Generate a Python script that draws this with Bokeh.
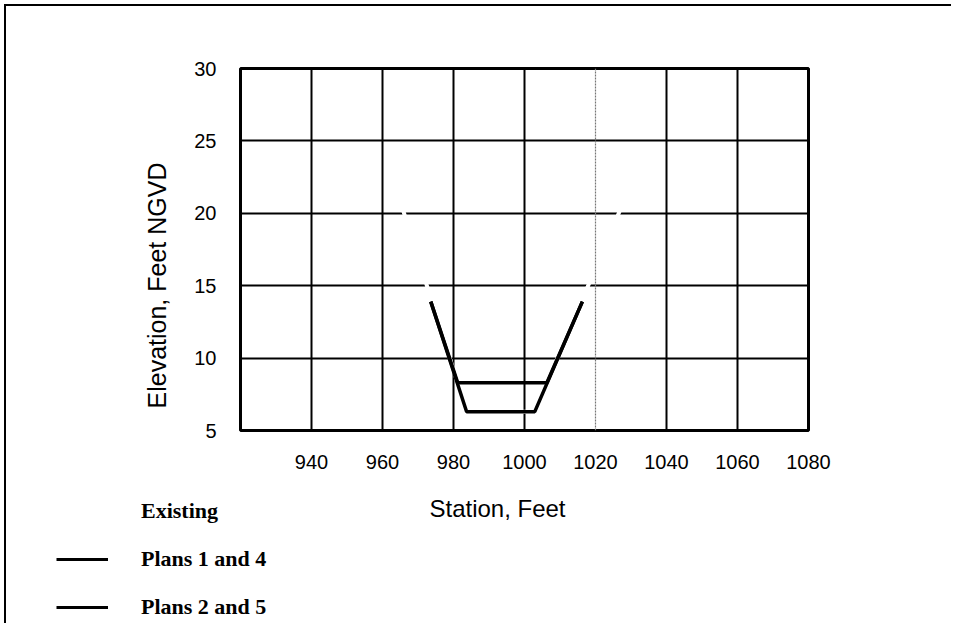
from bokeh.plotting import figure
from bokeh.models import FixedTicker, Span, Label, Legend, LegendItem, Title, Range1d
from bokeh.embed import file_html
from bokeh.resources import INLINE

# ---- data ----
x_ticks = [940, 960, 980, 1000, 1020, 1040, 1060, 1080]
y_ticks = [5, 10, 15, 20, 25, 30]
existing_x = [963.5, 983.7, 1002.9, 1030.0]
existing_y = [22.0, 6.3, 6.3, 22.0]
plans14_x = [973.6, 983.7, 1002.9, 1016.3]
plans14_y = [13.9, 6.3, 6.3, 13.9]
plans25_x = [973.6, 981.2, 1006.3, 1016.3]
plans25_y = [13.9, 8.3, 8.3, 13.9]
series_labels = ["Existing", "Plans 1 and 4", "Plans 2 and 5"]

p = figure(width=947, height=474, x_range=(920, 1080), y_range=(5, 30),
           output_backend="svg", toolbar_location=None,
           min_border_left=234, min_border_right=145,
           min_border_top=62, min_border_bottom=50)
p.styles = {"border-top": "2px solid black", "border-left": "2px solid black",
            "margin-top": "4px", "margin-left": "4px"}
p.background_fill_color = "white"
p.border_fill_color = "white"
p.outline_line_color = "black"
p.outline_line_width = 3

# grid
p.xgrid.ticker = FixedTicker(ticks=[940, 960, 980, 1000, 1040, 1060])
p.ygrid.ticker = FixedTicker(ticks=[10, 15, 20, 25])
for g in (p.xgrid, p.ygrid):
    g.grid_line_color = "black"
    g.grid_line_width = 2
    g.grid_line_alpha = 1
p.add_layout(Span(location=1020, dimension="height", line_color="#777777",
                  line_width=1.2, line_dash="2 1"))

# axes
for ax in (p.xaxis, p.yaxis):
    ax.axis_line_color = None
    ax.major_tick_line_color = None
    ax.minor_tick_line_color = None
    ax.major_tick_out = 0
    ax.major_tick_in = 0
    ax.major_label_text_font = "Liberation Sans"
    ax.major_label_text_font_size = "20px"
    ax.major_label_text_color = "black"
p.xaxis.ticker = FixedTicker(ticks=x_ticks)
p.yaxis.ticker = FixedTicker(ticks=y_ticks)
p.xaxis.major_label_standoff = 24
p.yaxis.major_label_standoff = 24

p.add_layout(Title(text="Elevation, Feet NGVD", text_font="Liberation Sans",
                   text_font_size="25px", text_font_style="normal",
                   text_color="black", align="left", offset=22, standoff=42),
             "left")

# profile lines
p.line(existing_x, existing_y, line_color="white", line_width=4)
p.line(plans14_x, plans14_y, line_color="black", line_width=3.5)
p.line(plans25_x, plans25_y, line_color="black", line_width=3.5)

# lower panel: axis title and legend (same series, outside the visible range)
p2 = figure(width=947, height=145, x_range=Range1d(0, 1), y_range=Range1d(0, 1),
            output_backend="svg", toolbar_location=None,
            min_border_left=0, min_border_right=0, min_border_top=0, min_border_bottom=0)
p2.styles = {"border-left": "2px solid black", "margin-left": "4px"}
p2.axis.visible = False
p2.grid.visible = False
p2.outline_line_color = None
p2.background_fill_color = "white"
p2.border_fill_color = "white"

p2.add_layout(Label(x=491, y=115, x_units="screen", y_units="screen",
                    text="Station, Feet", text_font="Liberation Sans",
                    text_font_size="24px", text_align="center",
                    text_baseline="middle", text_color="black"))

l_exist = p2.line(existing_x, existing_y, line_color="white", line_width=3)
l14 = p2.line(plans14_x, plans14_y, line_color="black", line_width=3)
l25 = p2.line(plans25_x, plans25_y, line_color="black", line_width=3)

legend = Legend(items=[LegendItem(label=series_labels[0], renderers=[l_exist]),
                       LegendItem(label=series_labels[1], renderers=[l14]),
                       LegendItem(label=series_labels[2], renderers=[l25])],
                location=(50, 3))
legend.label_text_font = "Liberation Serif"
legend.label_text_font_style = "bold"
legend.label_text_font_size = "22px"
legend.label_text_color = "black"
legend.glyph_width = 52
legend.glyph_height = 20
legend.label_height = 20
legend.label_standoff = 33
legend.spacing = 22
legend.padding = 0
legend.margin = 0
legend.border_line_color = None
legend.background_fill_alpha = 0
p2.add_layout(legend, "center")

open("out.html", "w").write(file_html([p, p2], INLINE))
